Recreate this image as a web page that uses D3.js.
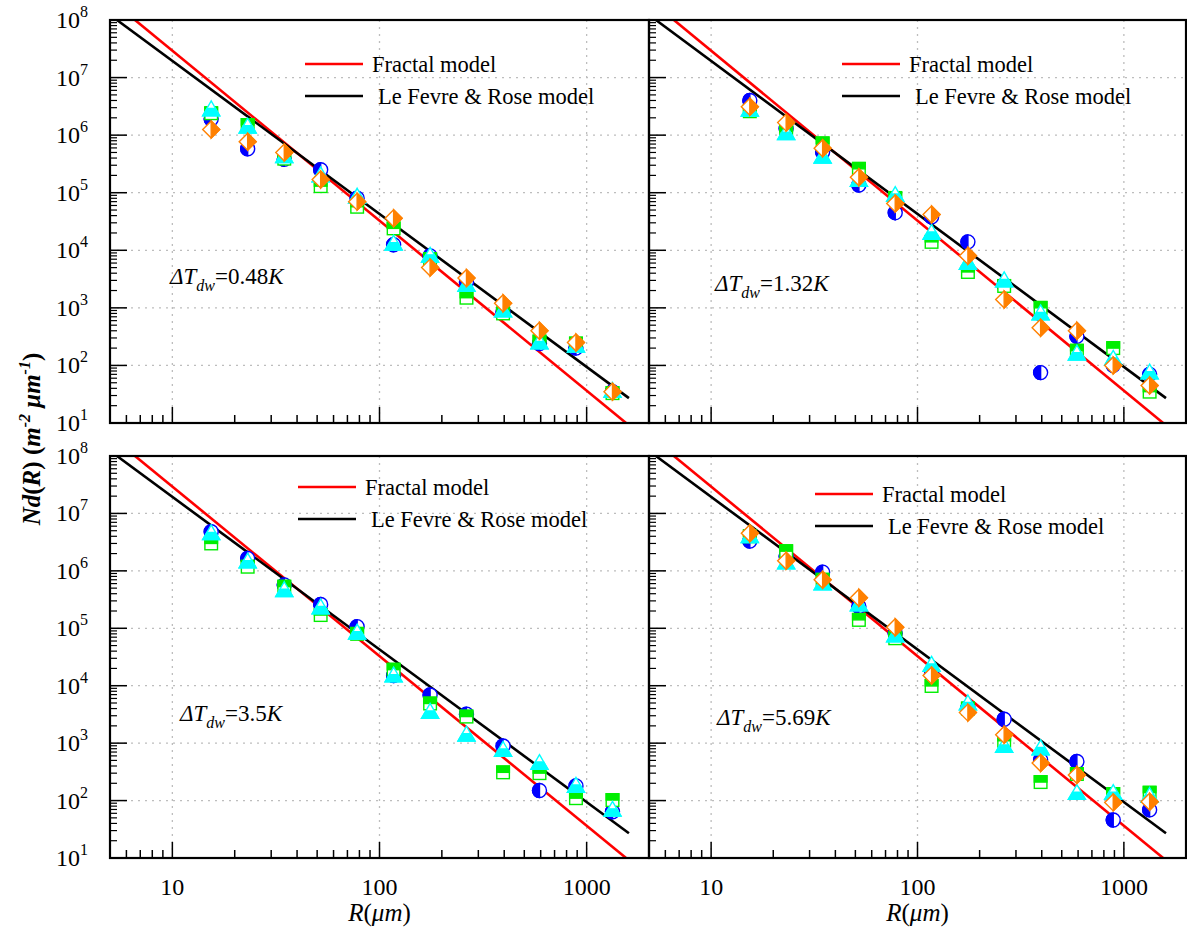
<!DOCTYPE html>
<html><head><meta charset="utf-8">
<script src="https://cdn.jsdelivr.net/npm/d3@7"></script>
<style>body{margin:0;background:#fff}svg{display:block}</style>
</head><body><div id="chart"></div>
<script>
// ---------- data ----------
const radii = [15.4, 23.1, 34.7, 52, 78, 117, 175.5, 263, 395, 592, 888, 1333];
const xTicks = [10, 100, 1000];
const yTickExps = [1, 2, 3, 4, 5, 6, 7, 8];
const panelDT = ["0.48", "1.32", "3.5", "5.69"];
const legendNames = ["Fractal model", "Le Fevre & Rose model"];
// model lines: [R, Nd] endpoints
const fractalLine = [[6.6, 1e8], [1550, 10]];
const lfrLine = [[5.4, 1e8], [1600, 27]];

// panel 1: ΔT=0.48K
const circle1   = [1.9e6, 5.8e5, 3.8e5, 2.5e5, 8e4, 1.25e4, 8e3, 2.8e3, 8.5e2, 2.4e2, 2e2, 35];
const square1   = [2.4e6, 1.5e6, 3.9e5, 1.3e5, 5.7e4, 2.4e4, 7e3, 1.5e3, 8e2, 2.6e2, 2.4e2, 33];
const triangle1 = [2.8e6, 1.4e6, 4.3e5, 2e5, 8.5e4, 1.3e4, 8e3, 2.5e3, 9e2, 2.5e2, 2.2e2, 36];
const diamond1  = [1.25e6, 7.7e5, 5e5, 1.7e5, 7e4, 3.6e4, 5e3, 3.3e3, 1.2e3, 4e2, 2.5e2, 35];
// panel 2: ΔT=1.32K
const circle2   = [4e6, 1.3e6, 5.1e5, 1.36e5, 4.5e4, 3.8e4, 1.4e4, 2.5e3, 75, 3.2e2, 1e2, 70];
const square2   = [2.6e6, 1.15e6, 7.2e5, 2.6e5, 8.1e4, 1.4e4, 4.2e3, 2.4e3, 1e3, 1.8e2, 2e2, 35];
const triangle2 = [2.75e6, 1.08e6, 4.2e5, 1.66e5, 9.1e4, 2e4, 6e3, 3e3, 8e2, 1.6e2, 1.3e2, 75];
const diamond2  = [3.1e6, 1.65e6, 5.9e5, 1.85e5, 6.5e4, 4.2e4, 8e3, 1.4e3, 4.5e2, 4e2, 1e2, 45];
// panel 3: ΔT=3.5K
const circle3   = [4.8e6, 1.65e6, 5.7e5, 2.6e5, 1.07e5, 1.5e4, 6.9e3, 3.2e3, 8.9e2, 1.5e2, 1.8e2, 64];
const square3   = [3e6, 1.18e6, 5.3e5, 1.7e5, 8e4, 1.9e4, 4.9e3, 2.9e3, 3.1e2, 3e2, 1.1e2, 1.02e2];
const triangle3 = [4.5e6, 1.45e6, 4.6e5, 2.3e5, 8.4e4, 1.5e4, 3.5e3, 1.4e3, 7.6e2, 4.5e2, 1.8e2, 69];
const diamond3  = [];
// panel 4: ΔT=5.69K
const circle4   = [3.3e6, 1.8e6, 9.5e5, 2.4e5, 8.2e4, 1.6e4, 4.2e3, 2.6e3, 5.1e2, 4.8e2, 46, 69];
const square4   = [4e6, 2.2e6, 7e5, 1.4e5, 6.7e4, 9.9e3, 4e3, 1.1e3, 2.1e2, 2.9e2, 1.3e2, 1.37e2];
const triangle4 = [4e6, 1.4e6, 6e5, 2.6e5, 7.5e4, 2.3e4, 4.9e3, 8.9e2, 8.1e2, 1.35e2, 1.35e2, 1.2e2];
const diamond4  = [4.5e6, 1.5e6, 7e5, 3.4e5, 1.04e5, 1.5e4, 3.4e3, 1.4e3, 4.5e2, 2.8e2, 93, 95];

const panelSeries = [
  {circle: circle1, square: square1, triangle: triangle1, diamond: diamond1},
  {circle: circle2, square: square2, triangle: triangle2, diamond: diamond2},
  {circle: circle3, square: square3, triangle: triangle3, diamond: diamond3},
  {circle: circle4, square: square4, triangle: triangle4, diamond: diamond4}
];

// ---------- layout ----------
const W = 1187, H = 931;
const FONT = "Liberation Serif";
const panels = [
  {x0: 110, x1: 649, y0: 20, y1: 423, legX: 305, legY: 64, annX: 170, annY: 284},
  {x0: 649, x1: 1186, y0: 20, y1: 423, legX: 842, legY: 64, annX: 715, annY: 291},
  {x0: 110, x1: 649, y0: 456, y1: 858, legX: 298, legY: 487, annX: 180, annY: 721},
  {x0: 649, x1: 1186, y0: 456, y1: 858, legX: 815, legY: 494, annX: 717, annY: 725}
];
const colors = {circle: "#0000ff", square: "#00ee00", triangle: "#00ffff", diamond: "#ff8000"};

const svg = d3.select("#chart").append("svg").attr("width", W).attr("height", H).attr("font-family", FONT);

function txt(sel) { return sel.append("text").attr("font-family", FONT).attr("fill", "#000"); }

panels.forEach((p, i) => {
  const x = d3.scaleLog().domain([5, 2000]).range([p.x0, p.x1]);
  const y = d3.scaleLog().domain([10, 1e8]).range([p.y1, p.y0]);
  const g = svg.append("g");
  const clipId = "clip" + i;
  svg.append("clipPath").attr("id", clipId).append("rect")
    .attr("x", p.x0).attr("y", p.y0).attr("width", p.x1 - p.x0).attr("height", p.y1 - p.y0);

  // grid
  g.selectAll(".gx").data(xTicks).join("line")
    .attr("x1", d => x(d)).attr("x2", d => x(d)).attr("y1", p.y0).attr("y2", p.y1)
    .attr("stroke", "#bdbdbd").attr("stroke-width", 1.3).attr("stroke-dasharray", "2,5");
  g.selectAll(".gy").data(yTickExps.filter(e => e > 1 && e < 8)).join("line")
    .attr("y1", d => y(Math.pow(10, d))).attr("y2", d => y(Math.pow(10, d))).attr("x1", p.x0).attr("x2", p.x1)
    .attr("stroke", "#bdbdbd").attr("stroke-width", 1.3).attr("stroke-dasharray", "2,5");

  // x ticks (inside, upward)
  const xMinor = [];
  [1, 10, 100, 1000].forEach(dec => { for (let k = 2; k <= 9; k++) { const v = dec * k; if (v > 5 && v < 2000 && !xTicks.includes(v)) xMinor.push(v); } });
  g.selectAll(".xmaj").data(xTicks).join("line")
    .attr("x1", d => x(d)).attr("x2", d => x(d)).attr("y1", p.y1).attr("y2", p.y1 - 16)
    .attr("stroke", "#000").attr("stroke-width", 1.5);
  g.selectAll(".xmin").data(xMinor).join("line")
    .attr("x1", d => x(d)).attr("x2", d => x(d)).attr("y1", p.y1).attr("y2", p.y1 - 8)
    .attr("stroke", "#000").attr("stroke-width", 1.5);

  // y ticks (inside, right)
  const yMinor = [];
  for (let e = 1; e < 8; e++) for (let k = 2; k <= 9; k++) yMinor.push(k * Math.pow(10, e));
  g.selectAll(".ymaj").data(yTickExps).join("line")
    .attr("y1", d => y(Math.pow(10, d))).attr("y2", d => y(Math.pow(10, d))).attr("x1", p.x0).attr("x2", p.x0 + 17)
    .attr("stroke", "#000").attr("stroke-width", 1.5);
  g.selectAll(".ymin").data(yMinor).join("line")
    .attr("y1", d => y(d)).attr("y2", d => y(d)).attr("x1", p.x0).attr("x2", p.x0 + 7)
    .attr("stroke", "#000").attr("stroke-width", 1.2);

  // model lines
  const line = d3.line().x(d => x(d[0])).y(d => y(d[1]));
  const lg = g.append("g").attr("clip-path", `url(#${clipId})`);
  lg.append("path").attr("d", line(fractalLine)).attr("fill", "none").attr("stroke", "#ff0000").attr("stroke-width", 2.6);
  lg.append("path").attr("d", line(lfrLine)).attr("fill", "none").attr("stroke", "#000").attr("stroke-width", 2.6);

  // markers
  const s = panelSeries[i];
  const order = ["circle", "square", "triangle", "diamond"];
  order.forEach(type => {
    const vals = s[type];
    const c = colors[type];
    const mg = g.selectAll(".m" + type).data(vals.map((v, j) => [radii[j], v])).join("g")
      .attr("transform", d => `translate(${x(d[0])},${y(d[1])})`);
    if (type === "circle") {
      mg.append("circle").attr("r", 7).attr("fill", "#fff").attr("stroke", c).attr("stroke-width", 1.4);
      mg.append("path").attr("d", "M0,-7 A7,7 0 0 0 0,7 Z").attr("fill", c).attr("stroke", c).attr("stroke-width", 1.4);
    } else if (type === "square") {
      mg.append("rect").attr("x", -6.3).attr("y", -6.3).attr("width", 12.6).attr("height", 12.6).attr("fill", "#fff").attr("stroke", c).attr("stroke-width", 1.4);
      mg.append("rect").attr("x", -6.3).attr("y", -6.3).attr("width", 12.6).attr("height", 6.3).attr("fill", c).attr("stroke", c).attr("stroke-width", 1.4);
    } else if (type === "triangle") {
      mg.append("path").attr("d", "M0,-8.5 L8.5,6.3 L-8.5,6.3 Z").attr("fill", "#fff").attr("stroke", c).attr("stroke-width", 1.4);
      mg.append("path").attr("d", "M-4.2,-1 L4.2,-1 L8.5,6.3 L-8.5,6.3 Z").attr("fill", c).attr("stroke", c).attr("stroke-width", 1.4);
    } else {
      mg.append("path").attr("d", "M0,-8.5 L8.5,0 L0,8.5 L-8.5,0 Z").attr("fill", "#fff").attr("stroke", c).attr("stroke-width", 1.4);
      mg.append("path").attr("d", "M0,-8.5 L8.5,0 L0,8.5 Z").attr("fill", c).attr("stroke", c).attr("stroke-width", 1.4);
    }
  });

  // frame
  g.append("rect").attr("x", p.x0).attr("y", p.y0).attr("width", p.x1 - p.x0).attr("height", p.y1 - p.y0)
    .attr("fill", "none").attr("stroke", "#000").attr("stroke-width", 2.2);

  // legend
  const legColors = ["#ff0000", "#000"];
  legendNames.forEach((name, k) => {
    const ly = p.legY + k * 32;
    g.append("line").attr("x1", p.legX).attr("x2", p.legX + 58).attr("y1", ly).attr("y2", ly)
      .attr("stroke", legColors[k]).attr("stroke-width", 2.6);
    txt(g).attr("x", p.legX + 67 + k * 6).attr("y", ly + 8).attr("font-size", 22.5).text(name);
  });

  // annotation ΔT_dw = ...K
  const t = txt(g).attr("x", p.annX).attr("y", p.annY).attr("font-size", 23);
  t.append("tspan").attr("font-style", "italic").text("ΔT");
  t.append("tspan").attr("font-style", "italic").attr("font-size", 16).attr("dy", 7).text("dw");
  t.append("tspan").attr("dy", -7).text("=" + panelDT[i]);
  t.append("tspan").attr("font-style", "italic").text("K");

  // y tick labels on left panels
  if (p.x0 === 110) {
    yTickExps.forEach(e => {
      const tt = txt(g).attr("x", 88).attr("y", y(Math.pow(10, e)) + 8).attr("text-anchor", "end").attr("font-size", 24);
      tt.append("tspan").text("10");
      tt.append("tspan").attr("font-size", 16).attr("dy", -11).text(e);
    });
  }
  // x tick labels on bottom panels
  if (p.y0 === 456) {
    xTicks.forEach(v => {
      txt(g).attr("x", x(v)).attr("y", 895).attr("text-anchor", "middle").attr("font-size", 24).text(v);
    });
    const xl = txt(g).attr("x", (p.x0 + p.x1) / 2).attr("y", 921).attr("text-anchor", "middle").attr("font-size", 25);
    xl.append("tspan").attr("font-style", "italic").text("R");
    xl.append("tspan").text("(");
    xl.append("tspan").attr("font-style", "italic").text("μm");
    xl.append("tspan").text(")");
  }
});

// y axis label
const yl = txt(svg).attr("transform", "translate(40,439) rotate(-90)").attr("text-anchor", "middle")
  .attr("font-size", 25).attr("font-weight", "bold");
yl.append("tspan").attr("font-style", "italic").text("Nd");
yl.append("tspan").text("(");
yl.append("tspan").attr("font-style", "italic").text("R");
yl.append("tspan").text(") (");
yl.append("tspan").attr("font-style", "italic").text("m");
yl.append("tspan").attr("font-style", "italic").attr("font-size", 16).attr("dy", -10).text("-2");
yl.append("tspan").attr("dy", 10).text(" ");
yl.append("tspan").attr("font-style", "italic").text("μm");
yl.append("tspan").attr("font-style", "italic").attr("font-size", 16).attr("dy", -10).text("-1");
yl.append("tspan").attr("dy", 10).text(")");
</script>
</body></html>
